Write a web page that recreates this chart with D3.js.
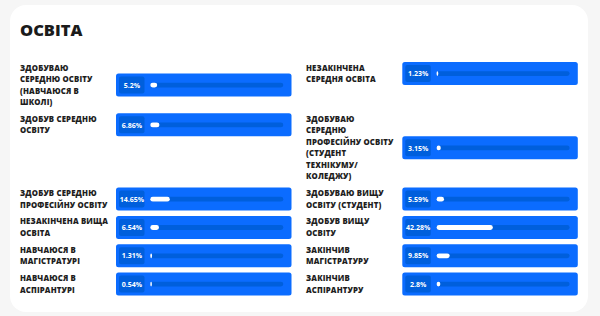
<!DOCTYPE html>
<html>
<head>
<meta charset="utf-8">
<script src="https://cdn.jsdelivr.net/npm/d3@7"></script>
<style>
  html, body { margin: 0; padding: 0; background: #f6f6f6; }
  svg { display: block; }
</style>
</head>
<body>
<svg width="600" height="316"></svg>
<script>
// categories, in reading order (left, right, left, right ...)
var categories = [
  "ЗДОБУВАЮ\nСЕРЕДНЮ ОСВІТУ\n(НАВЧАЮСЯ В\nШКОЛІ)",
  "НЕЗАКІНЧЕНА\nСЕРЕДНЯ ОСВІТА",
  "ЗДОБУВ СЕРЕДНЮ\nОСВІТУ",
  "ЗДОБУВАЮ\nСЕРЕДНЮ\nПРОФЕСІЙНУ ОСВІТУ\n(СТУДЕНТ\nТЕХНІКУМУ/\nКОЛЕДЖУ)",
  "ЗДОБУВ СЕРЕДНЮ\nПРОФЕСІЙНУ ОСВІТУ",
  "ЗДОБУВАЮ ВИЩУ\nОСВІТУ (СТУДЕНТ)",
  "НЕЗАКІНЧЕНА ВИЩА\nОСВІТА",
  "ЗДОБУВ ВИЩУ\nОСВІТУ",
  "НАВЧАЮСЯ В\nМАГІСТРАТУРІ",
  "ЗАКІНЧИВ\nМАГІСТРАТУРУ",
  "НАВЧАЮСЯ В\nАСПІРАНТУРІ",
  "ЗАКІНЧИВ\nАСПІРАНТУРУ"
];
var values = [5.2, 1.23, 6.86, 3.15, 14.65, 5.59, 6.54, 42.28, 1.31, 9.85, 0.54, 2.8];
var valueLabels = ["5.2%", "1.23%", "6.86%", "3.15%", "14.65%", "5.59%", "6.54%", "42.28%", "1.31%", "9.85%", "0.54%", "2.8%"];
var title = "ОСВІТА";

var svg = d3.select("svg");
var lineH = 11.5, barH = 23, barW = 175.5, gap = 5.3, top0 = 62;
var labelX = [20, 306];
var barX = [116, 402.3];

var blue = "#0b6cff", dark = "#005fdc";

// fill scale: 0..100% across the track
var x = d3.scaleLinear().domain([0, 100]).range([0, 133]);

// card
svg.append("rect")
  .attr("x", 10).attr("y", 5).attr("width", 578).attr("height", 307)
  .attr("rx", 16).attr("fill", "#ffffff");

svg.append("text")
  .attr("x", 20).attr("y", 35.5)
  .attr("font-family", "'Open Sans', sans-serif")
  .attr("font-weight", 800)
  .attr("font-size", 16.5)
  .attr("fill", "#1b1b1b")
  .text(title);

// build items and rows
var items = categories.map(function(c, i) {
  var lines = c.split("\n");
  return {
    lines: lines, value: values[i], label: valueLabels[i],
    col: i % 2, row: Math.floor(i / 2),
    h: Math.max(barH, lines.length * lineH)
  };
});

var rowTops = [], y = top0;
d3.range(categories.length / 2).forEach(function(r) {
  rowTops.push(y);
  var rh = d3.max(items.filter(function(d) { return d.row === r; }), function(d) { return d.h; });
  y += rh + gap;
});

var item = svg.selectAll(".item")
  .data(items)
  .enter().append("g")
    .attr("class", "item")
    .attr("transform", function(d) { return "translate(0," + rowTops[d.row] + ")"; });

item.append("text")
  .attr("font-family", "'Open Sans', sans-serif")
  .attr("font-weight", 800)
  .attr("font-size", 7.8)
  .attr("letter-spacing", 0.15)
  .attr("fill", "#1e1e1e")
  .selectAll("tspan")
  .data(function(d) { return d.lines.map(function(l) { return {t: l, col: d.col}; }); })
  .enter().append("tspan")
    .attr("x", function(d) { return labelX[d.col]; })
    .attr("y", function(d, i) { return lineH * i + lineH / 2 + 2.8; })
    .text(function(d) { return d.t; });

var bar = item.append("g")
  .attr("transform", function(d) {
    return "translate(" + barX[d.col] + "," + (d.h - barH) / 2 + ")";
  });

bar.append("rect")
  .attr("width", barW).attr("height", barH).attr("rx", 2.5)
  .attr("fill", blue);

bar.append("rect")
  .attr("x", 3).attr("y", 3).attr("width", 25.5).attr("height", 17).attr("rx", 2)
  .attr("fill", dark);

bar.append("text")
  .attr("x", 15.8).attr("y", 14.3)
  .attr("text-anchor", "middle")
  .attr("font-family", "'Open Sans', sans-serif")
  .attr("font-weight", 700)
  .attr("font-size", 7)
  .attr("fill", "#ffffff")
  .text(function(d) { return d.label; });

bar.append("rect")
  .attr("x", 34.3).attr("y", 9.2).attr("width", x(100)).attr("height", 4.8).attr("rx", 2.4)
  .attr("fill", dark);

bar.append("rect")
  .attr("x", 34.3).attr("y", 9.2)
  .attr("width", function(d) { return Math.max(x(d.value), 1.6); })
  .attr("height", 4.8).attr("rx", 2.4)
  .attr("fill", "#ffffff");
</script>
</body>
</html>
